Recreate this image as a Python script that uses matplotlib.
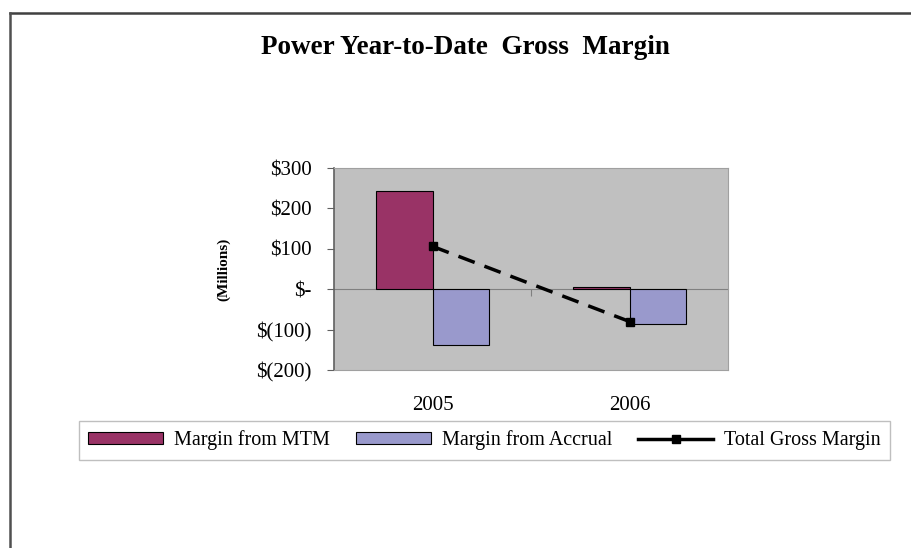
import matplotlib.pyplot as plt
from matplotlib.lines import Line2D
from matplotlib.patches import Patch

plt.rcParams['font.family'] = ['Liberation Serif', 'DejaVu Serif']

years = ['2005', '2006']
mtm = [243, 5]
accrual = [-137, -85]
total = [106, -80]

ytick_vals = [300, 200, 100, 0, -100, -200]
ytick_labels = ['$300', '$200', '$100', '$-', '$(100)', '$(200)']

mtm_color = '#993366'
accrual_color = '#9999CC'

fig = plt.figure(figsize=(9.11, 5.48), dpi=100)
ax = fig.add_axes([334 / 911, 1 - 370 / 548, 394 / 911, 202 / 548])
ax.set_facecolor('#C0C0C0')

x = list(range(len(years)))
w = 0.285
ax.bar([i - w / 2 for i in x], mtm, w, color=mtm_color, edgecolor='black', linewidth=0.8, zorder=3)
ax.bar([i + w / 2 for i in x], accrual, w, color=accrual_color, edgecolor='black', linewidth=0.8, zorder=3)
ax.plot(x, total, color='black', linestyle=(0, (5, 3)), linewidth=2.5,
        marker='s', markersize=6, zorder=4)

ax.set_xlim(-0.5, 1.5)
ax.set_ylim(-200, 300)
ax.set_yticks(ytick_vals)
ax.set_yticklabels(ytick_labels, fontsize=15)
ax.tick_params(axis='y', direction='out', length=5, color='#606060', pad=11)
ax.set_xticks(x)
ax.set_xticklabels(years, fontsize=15)
ax.tick_params(axis='x', length=0, pad=19)

for s in ['top', 'right', 'bottom']:
    ax.spines[s].set_color('#A0A0A0')
    ax.spines[s].set_linewidth(0.8)
ax.spines['left'].set_color('#606060')
ax.spines['left'].set_linewidth(1.2)

# category axis crossing at zero
sec = ax.secondary_xaxis(0.4)
sec.set_xticks([0.5])
sec.set_xticklabels([''])
sec.tick_params(direction='out', length=5, color='#808080')
sec.spines['bottom'].set_color('#808080')
sec.spines['bottom'].set_linewidth(0.8)

ax.set_ylabel('(Millions)', fontsize=11, fontweight='bold', labelpad=19)

fig.text(465 / 911, 1 - 48 / 548, 'Power Year-to-Date  Gross  Margin',
         ha='center', va='center', fontsize=19.5, fontweight='bold')

handles = [
    Patch(facecolor=mtm_color, edgecolor='black', linewidth=0.8),
    Patch(facecolor=accrual_color, edgecolor='black', linewidth=0.8),
    Line2D([], [], color='black', linestyle='-', linewidth=2.5, marker='s', markersize=6),
]
labels = ['Margin from MTM', 'Margin from Accrual', 'Total Gross Margin']
leg = fig.legend(handles, labels, loc='center', bbox_to_anchor=(484.5 / 911, 1 - 440.5 / 548),
                 ncol=3, fontsize=14.5, frameon=True, fancybox=False, handlelength=3.7,
                 handleheight=0.55, columnspacing=1.3, handletextpad=0.55, borderpad=0.45,
                 borderaxespad=0)
leg.get_frame().set_edgecolor('#B0B0B0')
leg.get_frame().set_linewidth(1.0)

# outer chart border (top and left)
fig.add_artist(Line2D([10 / 911, 1], [1 - 12.5 / 548, 1 - 12.5 / 548], color='#404040', linewidth=1.8))
fig.add_artist(Line2D([10 / 911, 10 / 911], [0, 1 - 12.5 / 548], color='#505050', linewidth=1.8))

fig.savefig('out.png', dpi=100)
